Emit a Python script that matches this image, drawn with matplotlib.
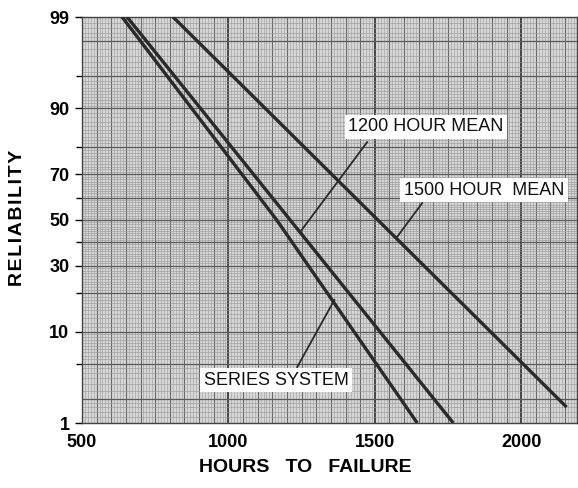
import matplotlib
matplotlib.use('Agg')
import matplotlib.pyplot as plt
import numpy as np
from statistics import NormalDist

# reliability curves (hours, reliability %)
hours_1500 = [811, 2155]
rel_1500 = [99, 1.6]
hours_1200 = [654, 1768]
rel_1200 = [99, 1]
hours_series = [637, 1165, 1645]
rel_series = [99, 50, 1]

y_ticks = [1, 10, 30, 50, 70, 90, 99]
y_minor = [5, 20, 40, 60, 80, 95]
x_ticks = [500, 1000, 1500, 2000]

_nd = NormalDist()


def to_z(p):
    p = np.clip(np.asarray(p, dtype=float), 0.01, 99.99) / 100.0
    return np.vectorize(_nd.inv_cdf, otypes=[float])(p)


def from_z(z):
    return np.vectorize(_nd.cdf, otypes=[float])(np.asarray(z, dtype=float)) * 100.0


plt.rcParams['font.family'] = ['Liberation Sans', 'DejaVu Sans']

fig = plt.figure(figsize=(5.78, 4.88), dpi=100)
ax = fig.add_axes([82 / 578, 1 - 423 / 488, 1 - 82 / 578 - 0.002, (423 - 17) / 488])
ax.set_yscale('function', functions=(to_z, from_z))
ax.set_xlim(500, 2190)
ax.set_ylim(1, 99)
ax.set_facecolor('#d6d6d6')

# graph paper: vertical rulings
for h in np.arange(510, 2190, 10):
    if h % 500 == 0:
        ax.axvline(h, color='#3a3a3a', lw=1.3, zorder=1)
    elif h % 50 == 0:
        ax.axvline(h, color='#6a6a6a', lw=0.8, zorder=1)
    else:
        ax.axvline(h, color='#9c9c9c', lw=0.4, zorder=1)

# graph paper: horizontal rulings (probability scale)
fine_p = np.concatenate([np.arange(1.2, 2, 0.2), np.arange(2, 10, 0.5),
                         np.arange(10, 90, 1), np.arange(90, 98, 0.5),
                         np.arange(98, 99, 0.2)])
for p in fine_p:
    ax.axhline(p, color='#979797', lw=0.4, zorder=1)
for p in [2, 5, 10, 20, 30, 40, 50, 60, 70, 80, 90, 95, 98]:
    ax.axhline(p, color='#5a5a5a', lw=0.9, zorder=1)

# curves
line_kw = dict(color='#2a2a2a', lw=2.4, solid_capstyle='butt', zorder=3)
ax.plot(hours_1500, rel_1500, **line_kw)
ax.plot(hours_1200, rel_1200, **line_kw)
ax.plot(hours_series, rel_series, **line_kw)

# leader lines and labels
lead_kw = dict(color='#2a2a2a', lw=1.3, zorder=3)
ax.plot([1474, 1245], [81.4, 44.5], **lead_kw)
ax.plot([1662, 1576], [57.7, 42.3], **lead_kw)
ax.plot([1235, 1362], [4.6, 18], **lead_kw)

box = dict(facecolor='white', edgecolor='none', pad=2.5)
txt_kw = dict(fontsize=13, ha='center', va='center', color='#111111', bbox=box, zorder=4)
ax.text(1675, 85.7, '1200 HOUR MEAN', **txt_kw)
ax.text(1873, 63.4, '1500 HOUR  MEAN', **txt_kw)
ax.text(1163, 3.3, 'SERIES SYSTEM', **txt_kw)

ax.set_yticks(y_ticks)
ax.set_yticklabels([str(v) for v in y_ticks])
ax.set_yticks(y_minor, minor=True)
ax.set_xticks(x_ticks)
ax.tick_params(axis='y', which='both', direction='out', length=5, width=1,
               labelsize=13, pad=4)
ax.tick_params(axis='y', which='minor', length=4)
ax.tick_params(axis='x', which='both', length=0, labelsize=13, pad=8)
for t in ax.get_xticklabels() + ax.get_yticklabels():
    t.set_fontweight('bold')

for s in ax.spines.values():
    s.set_color('#444444')
    s.set_linewidth(1.0)

fig.text(18 / 578, 1 - 218 / 488, 'R E L I A B I L I T Y'.replace(' ', '\u200a'),
         rotation=90, fontsize=14, fontweight='bold', ha='center', va='center')
fig.text(305 / 578, 1 - 467 / 488, 'HOURS   TO   FAILURE', fontsize=14,
         fontweight='bold', ha='center', va='center')

fig.savefig('out.png', dpi=100)
